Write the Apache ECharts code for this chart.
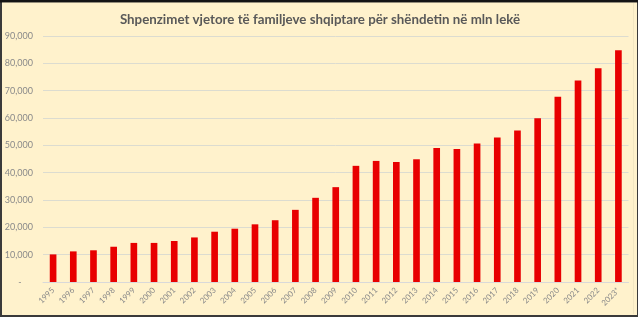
<!DOCTYPE html>
<html>
<head>
<meta charset="utf-8">
<script src="https://cdn.jsdelivr.net/npm/echarts@6/dist/echarts.min.js"></script>
<style>
  html, body { margin: 0; padding: 0; background: #ffffff; }
  #chart { width: 640px; height: 330px; }
</style>
</head>
<body>
<div id="chart"></div>
<script>
const chartTitle = 'Shpenzimet vjetore të familjeve shqiptare për shëndetin në mln lekë';
const years = ['1995','1996','1997','1998','1999','2000','2001','2002','2003','2004','2005','2006','2007','2008','2009','2010','2011','2012','2013','2014','2015','2016','2017','2018','2019','2020','2021','2022','2023*'];
const spending = [10100, 11200, 11600, 12900, 14300, 14300, 15000, 16300, 18400, 19500, 21100, 22600, 26400, 30800, 34700, 42500, 44300, 43900, 44900, 49000, 48700, 50700, 52900, 55400, 59900, 67800, 73700, 78200, 84800];
const yMin = 0, yMax = 90000, yStep = 10000;

const chart = echarts.init(document.getElementById('chart'), null, { renderer: 'canvas' });
chart.setOption({
  animation: false,
  backgroundColor: '#ffffff',
  graphic: [
    { type: 'rect', z: -10, silent: true, shape: { x: 0, y: 0, width: 638, height: 317 }, style: { fill: '#3a3a3a' } },
    { type: 'rect', z: -9, silent: true, shape: { x: 0, y: 0, width: 638, height: 2.5 }, style: { fill: '#141414' } },
    { type: 'rect', z: -8, silent: true, shape: { x: 2, y: 2.5, width: 635, height: 312.5 }, style: { fill: '#FFF2CC' } },
    { type: 'rect', z: -7, silent: true, shape: { x: 633, y: 3, width: 1, height: 311 }, style: { fill: '#F2E6C2' } }
  ],
  title: {
    text: chartTitle,
    left: 'center',
    top: 8,
    textStyle: { fontFamily: 'Lato', fontWeight: 'bold', fontSize: 13.3, color: '#595959' }
  },
  grid: { left: 43, right: 11.5, top: 36, bottom: 48, containLabel: false },
  xAxis: {
    type: 'category',
    data: years,
    axisLine: { show: true, lineStyle: { color: '#d9d9d9', width: 1 } },
    axisTick: { show: false },
    axisLabel: {
      rotate: 45, interval: 0, margin: 7,
      fontFamily: 'Lato', fontSize: 8, color: '#8a8a8a'
    }
  },
  yAxis: {
    type: 'value',
    min: yMin, max: yMax, interval: yStep,
    axisLine: { show: false },
    axisTick: { show: false },
    splitLine: { lineStyle: { color: '#dcdcd0', width: 1 } },
    axisLabel: {
      margin: 10,
      fontFamily: 'Lato', fontSize: 9, color: '#8a8a8a',
      formatter: function (v) { return v === 0 ? '-     ' : v.toLocaleString('en-US'); }
    }
  },
  series: [{
    type: 'bar',
    data: spending,
    barWidth: '33%',
    itemStyle: { color: '#E80000' }
  }]
});
</script>
</body>
</html>
